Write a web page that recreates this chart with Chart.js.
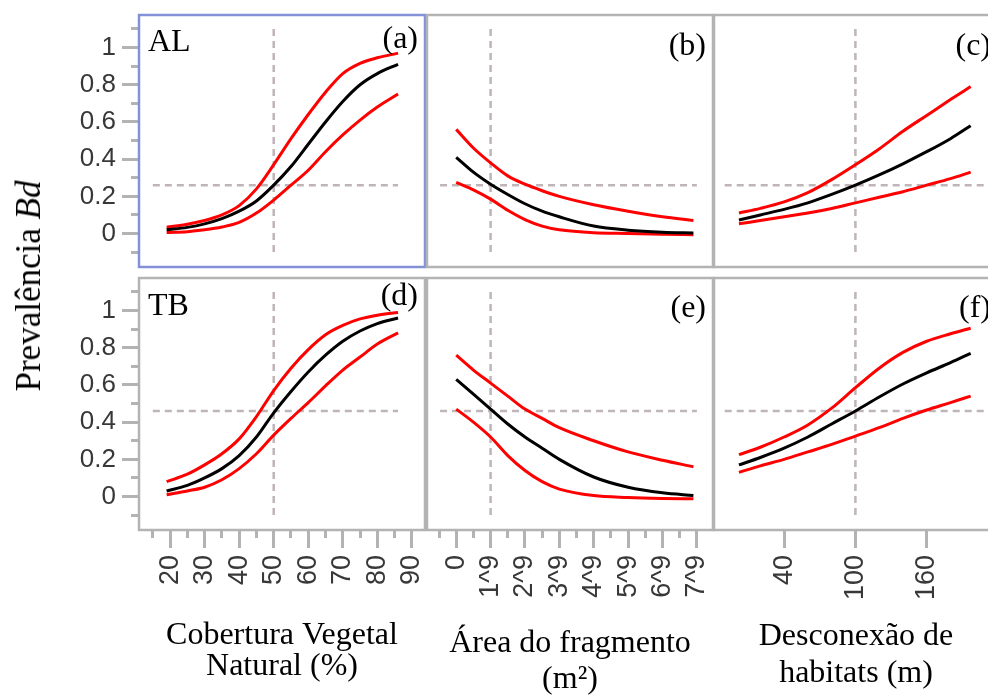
<!DOCTYPE html>
<html lang="pt">
<head>
<meta charset="utf-8">
<title>Prevalência Bd</title>
<script src="https://cdn.jsdelivr.net/npm/chart.js@4.4.0/dist/chart.umd.min.js"></script>
<style>
    html, body { margin: 0; padding: 0; background: #fff; overflow: hidden; }
    body { width: 988px; height: 698px; position: relative; }
    canvas { position: absolute; }
    #ytitle {
        position: absolute;
        left: 29px;
        top: 286px;
        transform: translate(-50%, -50%) rotate(-90deg);
        white-space: nowrap;
        font: 35px "Liberation Serif", serif;
        color: #000;
    }
</style>
</head>
<body>
<canvas id="cA" width="430" height="279" style="left:0;top:0"></canvas>
<canvas id="cB" width="295" height="279" style="left:422px;top:0"></canvas>
<canvas id="cC" width="295" height="279" style="left:709px;top:0"></canvas>
<canvas id="cD" width="430" height="435" style="left:0;top:263px"></canvas>
<canvas id="cE" width="295" height="435" style="left:422px;top:263px"></canvas>
<canvas id="cF" width="295" height="435" style="left:709px;top:263px"></canvas>
<div id="ytitle">Prevalência <i>Bd</i></div>

<script>
// ==========================================
// DATA
// ==========================================

// Cobertura vegetal natural (%)
const coberturaX = [19, 25, 30, 35, 40, 45, 50, 55, 60, 65, 70, 75, 80, 86];
const alCobMean  = [0.02, 0.033, 0.052, 0.08, 0.12, 0.175, 0.26, 0.36, 0.48, 0.60, 0.71, 0.80, 0.86, 0.91];
const alCobUpper = [0.034, 0.05, 0.07, 0.10, 0.15, 0.24, 0.37, 0.51, 0.64, 0.76, 0.86, 0.915, 0.945, 0.97];
const alCobLower = [0.005, 0.01, 0.02, 0.035, 0.06, 0.11, 0.18, 0.26, 0.34, 0.44, 0.53, 0.61, 0.68, 0.75];
const tbCobMean  = [0.03, 0.06, 0.10, 0.15, 0.22, 0.32, 0.45, 0.565, 0.67, 0.76, 0.835, 0.89, 0.93, 0.96];
const tbCobUpper = [0.08, 0.12, 0.17, 0.23, 0.31, 0.43, 0.57, 0.69, 0.79, 0.87, 0.92, 0.955, 0.975, 0.99];
const tbCobLower = [0.01, 0.03, 0.05, 0.09, 0.15, 0.23, 0.33, 0.42, 0.505, 0.595, 0.68, 0.75, 0.82, 0.88];

// Área do fragmento
const areaX       = [0, 0.5, 1, 1.5, 2, 2.5, 3, 4, 5, 6, 6.9];
const alAreaMean  = [0.41, 0.33, 0.265, 0.21, 0.16, 0.12, 0.09, 0.04, 0.018, 0.007, 0.003];
const alAreaUpper = [0.56, 0.46, 0.38, 0.31, 0.265, 0.23, 0.20, 0.155, 0.12, 0.09, 0.07];
const alAreaLower = [0.275, 0.235, 0.185, 0.125, 0.075, 0.04, 0.02, 0.004, 0, -0.004, -0.006];
const tbAreaMean  = [0.63, 0.55, 0.47, 0.39, 0.32, 0.26, 0.20, 0.105, 0.05, 0.02, 0.006];
const tbAreaUpper = [0.76, 0.68, 0.61, 0.54, 0.47, 0.42, 0.37, 0.30, 0.24, 0.195, 0.16];
const tbAreaLower = [0.47, 0.40, 0.32, 0.22, 0.14, 0.08, 0.04, 0.005, -0.005, -0.01, -0.012];

// Desconexão de habitats (m)
const descX       = [2, 20, 40, 60, 80, 100, 120, 140, 160, 180, 197];
const alDescMean  = [0.073, 0.10, 0.13, 0.165, 0.21, 0.26, 0.315, 0.375, 0.44, 0.51, 0.58];
const alDescUpper = [0.11, 0.135, 0.17, 0.22, 0.29, 0.37, 0.455, 0.55, 0.635, 0.72, 0.79];
const alDescLower = [0.052, 0.07, 0.09, 0.11, 0.135, 0.165, 0.195, 0.225, 0.26, 0.295, 0.33];
const tbDescMean  = [0.17, 0.21, 0.26, 0.32, 0.39, 0.46, 0.535, 0.605, 0.665, 0.72, 0.77];
const tbDescUpper = [0.225, 0.265, 0.32, 0.385, 0.475, 0.585, 0.69, 0.775, 0.835, 0.875, 0.905];
const tbDescLower = [0.13, 0.165, 0.20, 0.24, 0.28, 0.325, 0.37, 0.42, 0.465, 0.505, 0.54];

// reference (dashed) lines
const refXCob = 50, refXArea = 1, refXDesc = 100;
const refYAL = 0.26, refYTB = 0.46;
const refSpanY = [-0.1, 1.1];
const refSpanCob = [15, 86];
const refSpanArea = [-0.47, 7.0];
const refSpanDesc = [-10, 220];

// ticks
const yTicks      = [0, 0.2, 0.4, 0.6, 0.8, 1];
const yTickLabels = ['0', '0.2', '0.4', '0.6', '0.8', '1'];
const yMinorTicks = [-0.1, 0.1, 0.3, 0.5, 0.7, 0.9, 1.1];

const cobTicks      = [20, 30, 40, 50, 60, 70, 80, 90];
const cobTickLabels = ['20', '30', '40', '50', '60', '70', '80', '90'];
const cobMinorTicks = [15, 25, 35, 45, 55, 65, 75, 85];

const areaTicks      = [0, 1, 2, 3, 4, 5, 6, 7];
const areaTickLabels = ['0', '1^9', '2^9', '3^9', '4^9', '5^9', '6^9', '7^9'];
const areaMinorTicks = [-0.5, 0.5, 1.5, 2.5, 3.5, 4.5, 5.5, 6.5];

const descTicks      = [40, 100, 160];
const descTickLabels = ['40', '100', '160'];
const descMinorTicks = [];

// ==========================================
// STYLE
// ==========================================

const RED = '#ff0000';
const BLACK = '#000000';
const DASH = '#bfb5b8';
const FRAME = '#b3b3b3';
const SELECTED = '#8392d8';
const TICK_TEXT = '#383838';

const Y_RANGE = [-0.18, 1.175];

// ==========================================
// HELPERS
// ==========================================

function pts(xs, ys) {
    return xs.map((x, i) => ({ x: x, y: ys[i] }));
}

function curve(xs, ys, color) {
    return {
        data: pts(xs, ys),
        borderColor: color,
        borderWidth: 3,
        pointRadius: 0,
        fill: false,
        cubicInterpolationMode: 'monotone'
    };
}

function dashed(data) {
    return {
        data: data,
        borderColor: DASH,
        borderWidth: 2.5,
        borderDash: [7, 5],
        pointRadius: 0,
        fill: false,
        tension: 0
    };
}

// frame round the plot area + panel tags
const framePlugin = {
    id: 'frame',
    afterDraw(chart, args, opts) {
        const { ctx, chartArea: a } = chart;
        ctx.save();
        ctx.strokeStyle = opts.color;
        ctx.lineWidth = 2.5;
        ctx.strokeRect(a.left, a.top, a.right - a.left, a.bottom - a.top);
        ctx.fillStyle = '#000';
        ctx.font = '32px "Liberation Serif", serif';
        ctx.textBaseline = 'alphabetic';
        if (opts.name) {
            ctx.textAlign = 'left';
            ctx.fillText(opts.name, a.left + 9, a.top + opts.nameY);
        }
        ctx.textAlign = 'right';
        ctx.fillText(opts.tag, a.right - 7, a.top + opts.tagY);
        ctx.restore();
    }
};

function setTicks(values) {
    return function(scale) {
        scale.ticks = values.map(v => ({ value: v }));
    };
}

// fixed axis sizes, only when the axis is shown
function fixHeight(show, h) {
    return function(scale) { if (show) scale.height = h; };
}
function fixWidth(show, w) {
    return function(scale) { if (show) scale.width = w; };
}

function makePanel(id, cfg) {
    const ctx = document.getElementById(id).getContext('2d');
    const showX = cfg.bottomRow;
    const showY = cfg.firstCol;

    new Chart(ctx, {
        type: 'line',
        data: {
            datasets: [
                curve(cfg.xs, cfg.mean, BLACK),
                curve(cfg.xs, cfg.upper, RED),
                curve(cfg.xs, cfg.lower, RED),
                dashed([{ x: cfg.refX, y: refSpanY[0] }, { x: cfg.refX, y: refSpanY[1] }]),
                dashed([{ x: cfg.refSpan[0], y: cfg.refY }, { x: cfg.refSpan[1], y: cfg.refY }])
            ]
        },
        options: {
            responsive: false,
            animation: false,
            events: [],
            layout: { padding: cfg.padding },
            plugins: {
                legend: { display: false },
                tooltip: { enabled: false },
                frame: { color: cfg.frameColor, name: cfg.name, nameY: cfg.nameY, tag: cfg.tag, tagY: cfg.tagY }
            },
            scales: {
                x: {
                    type: 'linear',
                    position: 'bottom',
                    min: cfg.xRange[0],
                    max: cfg.xRange[1],
                    display: showX,
                    afterBuildTicks: setTicks(cfg.xTicks),
                    afterFit: fixHeight(showX, 168),
                    border: { display: false },
                    grid: { drawOnChartArea: false, tickLength: 18, tickWidth: 3, tickColor: FRAME },
                    ticks: {
                        autoSkip: false,
                        minRotation: 90,
                        maxRotation: 90,
                        padding: 7,
                        color: TICK_TEXT,
                        font: { family: "'Liberation Sans', Arial, sans-serif", size: 27, lineHeight: 0.2 },
                        callback: function(value, index) { return cfg.xLabels[index]; }
                    },
                    title: {
                        display: true,
                        text: cfg.xTitle,
                        color: '#000',
                        font: { family: "'Liberation Serif', serif", size: 32, lineHeight: cfg.titleLH + 'px' },
                        padding: { top: 0, bottom: cfg.titlePad }
                    }
                },
                xm: {
                    type: 'linear',
                    position: 'bottom',
                    weight: -1,
                    min: cfg.xRange[0],
                    max: cfg.xRange[1],
                    display: showX && cfg.xMinor.length > 0,
                    afterBuildTicks: setTicks(cfg.xMinor),
                    afterFit: function(scale) { scale.height = 0; },
                    border: { display: false },
                    grid: { drawOnChartArea: false, tickLength: 8, tickWidth: 3, tickColor: FRAME },
                    ticks: { display: false, padding: 0 }
                },
                y: {
                    type: 'linear',
                    position: 'left',
                    min: Y_RANGE[0],
                    max: Y_RANGE[1],
                    display: showY,
                    afterBuildTicks: setTicks(yTicks),
                    afterFit: fixWidth(showY, 139),
                    border: { display: false },
                    grid: { drawOnChartArea: false, tickLength: 17, tickWidth: 3, tickColor: FRAME },
                    ticks: {
                        padding: 6,
                        color: TICK_TEXT,
                        font: { family: "'Liberation Sans', Arial, sans-serif", size: 26, lineHeight: 0.4 },
                        callback: function(value, index) { return yTickLabels[index]; }
                    }
                },
                ym: {
                    type: 'linear',
                    position: 'left',
                    weight: -1,
                    min: Y_RANGE[0],
                    max: Y_RANGE[1],
                    display: showY,
                    afterBuildTicks: setTicks(yMinorTicks),
                    afterFit: function(scale) { scale.width = 0; },
                    border: { display: false },
                    grid: { drawOnChartArea: false, tickLength: 8, tickWidth: 3, tickColor: FRAME },
                    ticks: { display: false, padding: 0 }
                }
            }
        },
        plugins: [framePlugin]
    });
}

// ==========================================
// PANELS
// ==========================================

const COL1 = { xs: coberturaX, xRange: [11, 93.8], xTicks: cobTicks, xLabels: cobTickLabels, xMinor: cobMinorTicks,
               refX: refXCob, refSpan: refSpanCob, xTitle: ['Cobertura Vegetal', 'Natural (%)'], titleLH: 31, titlePad: 15.5 };
const COL2 = { xs: areaX, xRange: [-0.85, 7.47], xTicks: areaTicks, xLabels: areaTickLabels, xMinor: areaMinorTicks,
               refX: refXArea, refSpan: refSpanArea, xTitle: ['Área do fragmento', '(m²)'], titleLH: 36, titlePad: 0 };
const COL3 = { xs: descX, xRange: [-19, 220], xTicks: descTicks, xLabels: descTickLabels, xMinor: descMinorTicks,
               refX: refXDesc, refSpan: refSpanDesc, xTitle: ['Desconexão de', 'habitats (m)'], titleLH: 37, titlePad: 5.5 };

const TOP_PAD_1 = { top: 15, right: 5, bottom: 12, left: 0 };
const TOP_PAD_2 = { top: 15, right: 4, bottom: 12, left: 5 };
const TOP_PAD_3 = { top: 15, right: 6, bottom: 12, left: 5 };
const BOT_PAD_1 = { top: 15, right: 5, bottom: 0, left: 0 };
const BOT_PAD_2 = { top: 15, right: 4, bottom: 0, left: 5 };
const BOT_PAD_3 = { top: 15, right: 6, bottom: 0, left: 5 };

document.addEventListener('DOMContentLoaded', function() {
    makePanel('cA', Object.assign({}, COL1, {
        mean: alCobMean, upper: alCobUpper, lower: alCobLower, refY: refYAL,
        bottomRow: false, firstCol: true, padding: TOP_PAD_1, frameColor: SELECTED,
        name: 'AL', nameY: 36, tag: '(a)', tagY: 33
    }));
    makePanel('cB', Object.assign({}, COL2, {
        mean: alAreaMean, upper: alAreaUpper, lower: alAreaLower, refY: refYAL,
        bottomRow: false, firstCol: false, padding: TOP_PAD_2, frameColor: FRAME,
        name: '', nameY: 0, tag: '(b)', tagY: 40
    }));
    makePanel('cC', Object.assign({}, COL3, {
        mean: alDescMean, upper: alDescUpper, lower: alDescLower, refY: refYAL,
        bottomRow: false, firstCol: false, padding: TOP_PAD_3, frameColor: FRAME,
        name: '', nameY: 0, tag: '(c)', tagY: 40
    }));
    makePanel('cD', Object.assign({}, COL1, {
        mean: tbCobMean, upper: tbCobUpper, lower: tbCobLower, refY: refYTB,
        bottomRow: true, firstCol: true, padding: BOT_PAD_1, frameColor: FRAME,
        name: 'TB', nameY: 37, tag: '(d)', tagY: 27
    }));
    makePanel('cE', Object.assign({}, COL2, {
        mean: tbAreaMean, upper: tbAreaUpper, lower: tbAreaLower, refY: refYTB,
        bottomRow: true, firstCol: false, padding: BOT_PAD_2, frameColor: FRAME,
        name: '', nameY: 0, tag: '(e)', tagY: 39
    }));
    makePanel('cF', Object.assign({}, COL3, {
        mean: tbDescMean, upper: tbDescUpper, lower: tbDescLower, refY: refYTB,
        bottomRow: true, firstCol: false, padding: BOT_PAD_3, frameColor: FRAME,
        name: '', nameY: 0, tag: '(f)', tagY: 39
    }));
});
</script>
</body>
</html>
